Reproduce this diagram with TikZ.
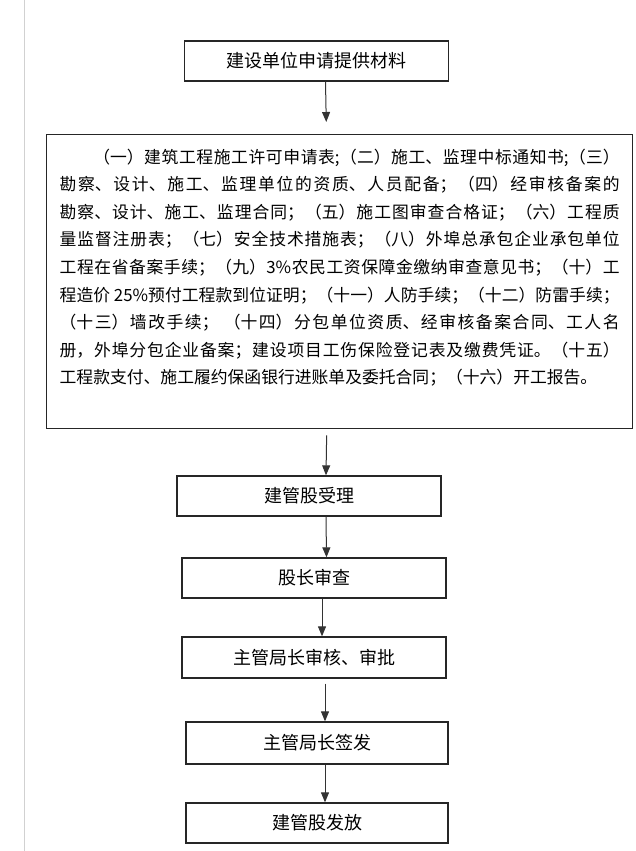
\documentclass[tikz,border=0pt]{standalone}
\usepackage{fontspec}
\usepackage{tikz}
\usetikzlibrary{arrows.meta}
\newfontfamily\cjk{Noto Sans CJK SC}

\begin{document}
\begin{tikzpicture}[x=1pt,y=-1pt]
\tikzstyle{stepbox}=[
  draw=black!85,
  line width=1.3pt,
  minimum width=264pt,
  minimum height=40pt,
  inner sep=0pt,
  font=\cjk\fontsize{18pt}{20pt}\selectfont ]
\tikzstyle{listbox}=[
  draw=black!85,
  line width=1.3pt,
  text width=560pt,
  inner xsep=13pt,
  inner ysep=14pt,
  align=justify,
  font=\cjk\fontsize{16.8pt}{27.6pt}\selectfont ]
\tikzstyle{flow}=[-{Triangle[length=10pt,width=8pt]}, line width=1pt, black!80]
\useasboundingbox (0,0) rectangle (635,851);
\draw[black!18, line width=1pt] (24,0) -- (24,851);

\node[stepbox] (apply) at (316.5,61) {建设单位申请提供材料};
\node[listbox, anchor=north west] (materials) at (46,134) {%
  \XeTeXlinebreaklocale "zh"\XeTeXlinebreakskip=0pt plus 2pt minus 0.5pt
  \tolerance=10000\parindent=0pt\parfillskip=0pt
  \hspace*{2em}（一）建筑工程施工许可申请表;（二）施工、监理中标通知书;（三）\linebreak
  勘察、设计、施工、监理单位的资质、人员配备；（四）经审核备案的\linebreak
  勘察、设计、施工、监理合同；（五）施工图审查合格证；（六）工程质\linebreak
  量监督注册表；（七）安全技术措施表；（八）外埠总承包企业承包单位\linebreak
  工程在省备案手续；（九）3\%农民工资保障金缴纳审查意见书；（十）工\linebreak
  程造价 25\%预付工程款到位证明；（十一）人防手续；（十二）防雷手续；\linebreak
  （十三）墙改手续； （十四）分包单位资质、经审核备案合同、工人名\linebreak
  册，外埠分包企业备案；建设项目工伤保险登记表及缴费凭证。（十五）\linebreak
  工程款支付、施工履约保函银行进账单及委托合同；（十六）开工报告。\rule[-30.8pt]{0pt}{30.8pt}};
\node[stepbox] (accept) at (309,496) {建管股受理};
\node[stepbox] (review) at (314,578) {股长审查};
\node[stepbox, minimum height=41pt] (approve) at (314,657.5) {主管局长审核、审批};
\node[stepbox, minimum width=262pt, minimum height=42pt] (sign) at (317,743) {主管局长签发};
\node[stepbox, minimum width=262pt] (issue) at (317,823) {建管股发放};

\draw[flow] ([xshift=9pt]apply.south) -- ([xshift=-13.4pt,yshift=12pt]materials.north);
\draw[flow] ([xshift=-13pt,yshift=-6pt]materials.south) -- ([xshift=17pt]accept.north);
\draw[flow] ([xshift=17pt]accept.south) -- ([xshift=12.5pt]review.north);
\draw[flow] ([xshift=8pt]review.south) -- ([xshift=8pt]approve.north);
\draw[flow] ([xshift=11pt,yshift=-5pt]approve.south) -- ([xshift=8pt]sign.north);
\draw[flow] ([xshift=8pt]sign.south) -- ([xshift=8pt]issue.north);
\end{tikzpicture}
\end{document}
